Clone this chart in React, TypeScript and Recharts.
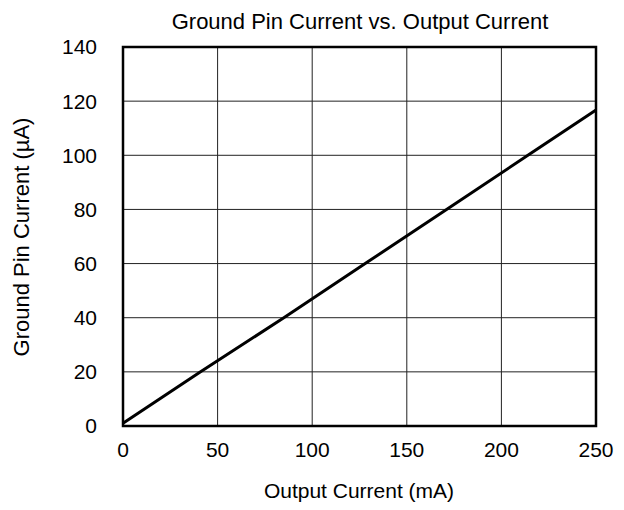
import React from 'react';
import { LineChart, Line, XAxis, YAxis, CartesianGrid, ReferenceArea } from 'recharts';

const outputCurrent = [0, 41, 85, 128, 171, 214, 250];
const groundCurrent = [1, 20, 40, 60, 80, 100, 116.7];
const xTicks = [0, 50, 100, 150, 200, 250];
const yTicks = [0, 20, 40, 60, 80, 100, 120, 140];

const data = outputCurrent.map((x, i) => ({ x, y: groundCurrent[i] }));

const FONT = '"Liberation Sans", Arial, sans-serif';

export default function App() {
  return (
    <div style={{ position: 'relative', width: 616, height: 502, fontFamily: FONT }}>
      <LineChart
        width={616}
        height={502}
        data={data}
        margin={{ top: 39, right: 28, left: 0, bottom: 0 }}
      >
        <text x={352} y={20.5} textAnchor="middle" fontSize={22} fontFamily={FONT} fill="#000">
          Ground Pin Current vs. Output Current
        </text>
        <text x={351} y={490} textAnchor="middle" fontSize={21} fontFamily={FONT} fill="#000">
          Output Current (mA)
        </text>
        <text
          x={20.5}
          y={229}
          textAnchor="middle"
          fontSize={22}
          fontFamily={FONT}
          fill="#000"
          transform="rotate(-90 20.5 229)"
        >
          Ground Pin Current (µA)
        </text>
        <CartesianGrid stroke="#222" strokeWidth={1} fill="none" />
        <XAxis
          dataKey="x"
          type="number"
          domain={[0, 250]}
          ticks={xTicks}
          height={84}
          tickLine={false}
          axisLine={false}
          tickSize={0}
          tickMargin={16}
          tick={{ fill: '#000', fontSize: 21, fontFamily: FONT }}
          interval={0}
        />
        <YAxis
          type="number"
          domain={[0, 140]}
          ticks={yTicks}
          width={115}
          tickLine={false}
          axisLine={false}
          tickSize={0}
          tickMargin={26}
          tick={{ fill: '#000', fontSize: 21, fontFamily: FONT }}
          interval={0}
        />
        <ReferenceArea x1={0} x2={250} y1={0} y2={140} fill="none" stroke="#000" strokeWidth={2.5} ifOverflow="visible" />
        <Line
          dataKey="y"
          type="linear"
          stroke="#000"
          strokeWidth={3}
          dot={false}
          isAnimationActive={false}
        />
      </LineChart>
    </div>
  );
}
